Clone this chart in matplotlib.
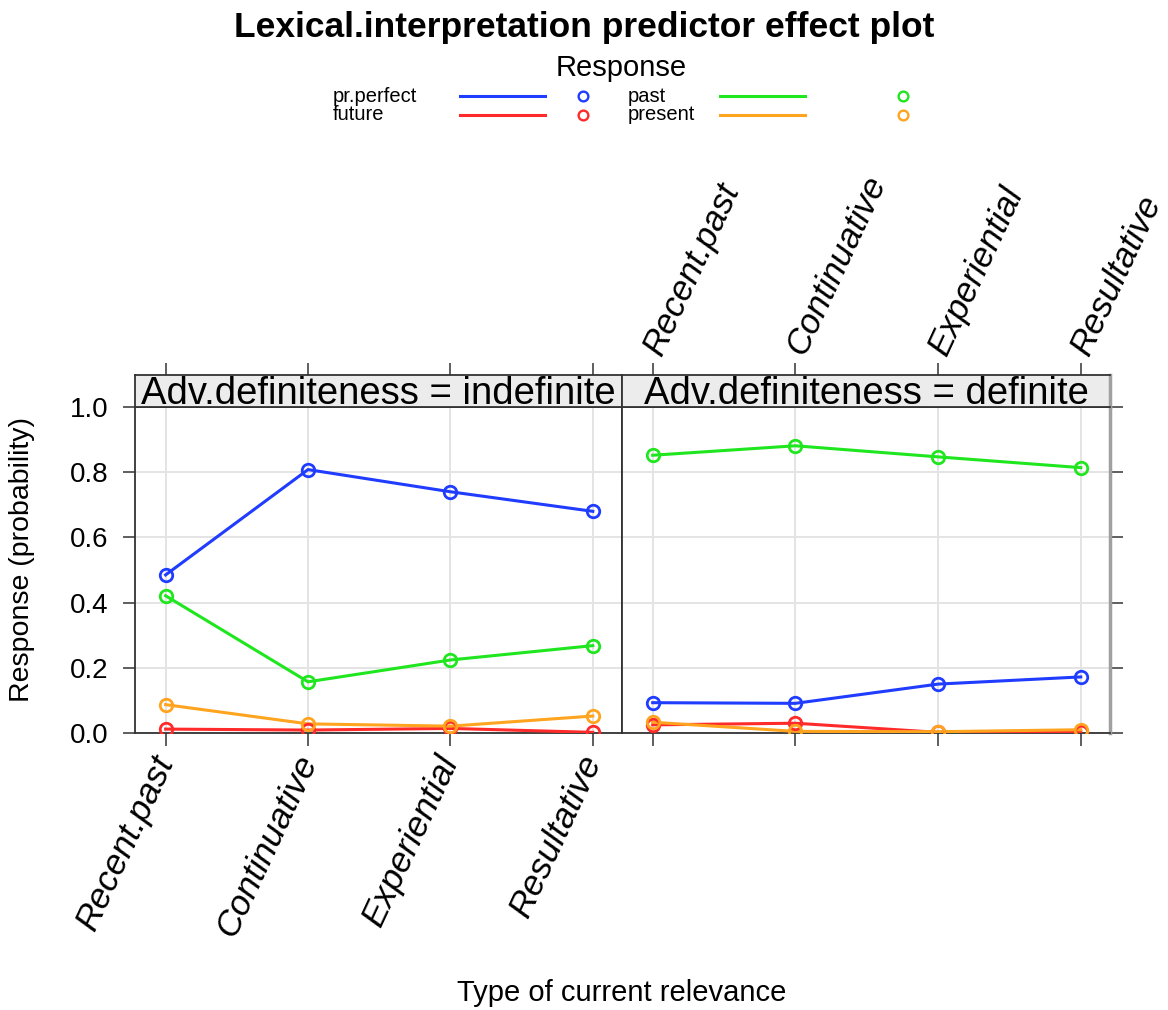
import numpy as np
import matplotlib
matplotlib.use("Agg")
import matplotlib.pyplot as plt
from matplotlib.lines import Line2D

plt.rcParams['font.family'] = ['Liberation Sans', 'DejaVu Sans']

#--------------------------------------------------------------------------------------------
# data

categories = ['Recent.past', 'Continuative', 'Experiential', 'Resultative']
panels = ['indefinite', 'definite']
responses = ['pr.perfect', 'past', 'future', 'present']
colors = {'pr.perfect': '#1f3cff', 'past': '#1fe61f', 'future': '#ff2a2a', 'present': '#ffa41f'}

indefinite = {
    'pr.perfect': [0.485, 0.808, 0.740, 0.680],
    'past':       [0.421, 0.157, 0.224, 0.268],
    'future':     [0.012, 0.009, 0.014, 0.002],
    'present':    [0.087, 0.028, 0.021, 0.052],
}
definite = {
    'pr.perfect': [0.093, 0.091, 0.150, 0.172],
    'past':       [0.852, 0.881, 0.847, 0.814],
    'future':     [0.025, 0.030, 0.002, 0.004],
    'present':    [0.033, 0.005, 0.004, 0.010],
}
panelData = [indefinite, definite]

yticks = [0.0, 0.2, 0.4, 0.6, 0.8, 1.0]

#--------------------------------------------------------------------------------------------

W, H = 1168., 1010.
fig = plt.figure(figsize=(W/100., H/100.), dpi=100)

def frac(x0, y0, x1, y1):
    """ pixel box (top-left origin) -> figure fraction rect """
    return [x0/W, 1. - y1/H, (x1-x0)/W, (y1-y0)/H]

panelBoxes = [(135, 407, 622, 733), (622, 407, 1110, 733)]
xpos = np.arange(1, len(categories)+1)
frameCol = '#333333'
rot = 65

for k in range(2):
    x0, y0, x1, y1 = panelBoxes[k]
    ax = fig.add_axes(frac(x0, y0, x1, y1))
    st = fig.add_axes(frac(x0, 375, x1, y0))

    ax.set_xlim(0.785, 4.205)
    ax.set_ylim(0., 1.)
    st.set_xlim(0.785, 4.205)
    st.set_ylim(0., 1.)

    ax.set_xticks(xpos)
    ax.set_yticks(yticks)
    ax.grid(True, color='#e4e4e4', lw=1.4)
    ax.set_axisbelow(True)

    d = panelData[k]
    for r in responses:
        ax.plot(xpos, d[r], '-', color=colors[r], lw=2.2, clip_on=True, zorder=3)
        ax.plot(xpos, d[r], 'o', mfc='none', mec=colors[r], mew=2.0, ms=9, clip_on=True, zorder=4)

    for s in ax.spines.values():
        s.set_color(frameCol)
        s.set_linewidth(1.3)
    for s in st.spines.values():
        s.set_color(frameCol)
        s.set_linewidth(1.3)

    ax.tick_params(axis='both', direction='out', length=9, width=1.1, color=frameCol)
    st.set_facecolor('#ececec')
    st.set_yticks([])
    st.set_xticks(xpos)
    st.tick_params(axis='x', direction='out', length=9, width=1.1, color=frameCol,
                   bottom=False, labelbottom=False, top=True)
    st.text(0.5, 0.42, 'Adv.definiteness = ' + panels[k], transform=st.transAxes,
            ha='center', va='center', fontsize=27.5)

    if k == 0:
        ax.set_yticklabels(['%.1f' % v for v in yticks], fontsize=20)
        ax.tick_params(axis='y', pad=10)
        ax.set_xticklabels(categories, rotation=rot, rotation_mode='anchor', ha='right',
                           va='center', fontsize=25.5, fontstyle='italic')
        ax.tick_params(axis='x', pad=8)
        st.tick_params(axis='x', labeltop=False)
    else:
        ax.yaxis.tick_right()
        ax.set_yticklabels([])
        ax.set_xticklabels([])
        ax.spines['right'].set_color('#a0a0a0')
        ax.spines['right'].set_linewidth(2.5)
        st.spines['right'].set_color('#a0a0a0')
        st.spines['right'].set_linewidth(2.5)
        st.tick_params(axis='x', labeltop=True, pad=7)
        st.set_xticklabels(categories, rotation=rot, rotation_mode='anchor', ha='left',
                           va='center', fontsize=25, fontstyle='italic')

#--------------------------------------------------------------------------------------------
# titles and labels

fig.text(584/W, 1. - 28/H, 'Lexical.interpretation predictor effect plot',
         ha='center', va='center', fontsize=25.5, fontweight='bold')
fig.text(22/W, 1. - 560/H, 'Response (probability)', rotation=90,
         ha='center', va='center', fontsize=20.5)
fig.text(622/W, 1. - 993/H, 'Type of current relevance',
         ha='center', va='center', fontsize=21)

# legend (two columns: text, line, open circle)
fig.text(621/W, 1. - 68/H, 'Response', ha='center', va='center', fontsize=21)
legendCols = [(['pr.perfect', 'future'], 333, 460, 545, 583),
              (['past', 'present'], 628, 720, 805, 903)]
rowY = [96, 115]
for names, tx, lx0, lx1, cx in legendCols:
    for j, name in enumerate(names):
        yy = 1. - rowY[j]/H
        fig.text(tx/W, yy, name, ha='left', va='center', fontsize=14.5)
        fig.add_artist(Line2D([lx0/W, lx1/W], [yy, yy], color=colors[name], lw=2.2,
                              transform=fig.transFigure))
        fig.add_artist(Line2D([cx/W], [yy], marker='o', mfc='none', mec=colors[name],
                              mew=1.7, ms=7, transform=fig.transFigure))

fig.savefig('out.png', dpi=100)
